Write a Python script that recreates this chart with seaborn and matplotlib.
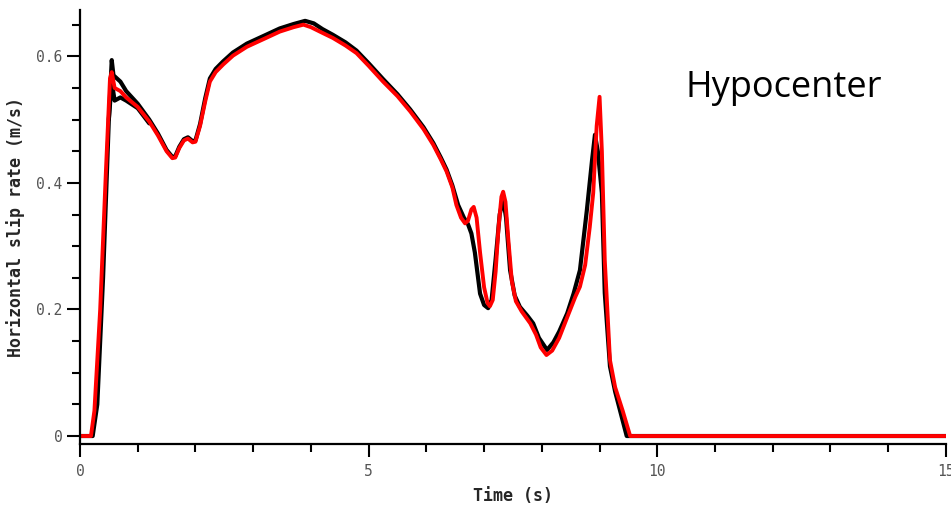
import matplotlib
matplotlib.use('Agg')
import matplotlib.pyplot as plt
from matplotlib.ticker import MultipleLocator
import seaborn as sns

# slip rate curves (time in s, rate in m/s)
red_t = [0, 0.19, 0.25, 0.35, 0.45, 0.52, 0.55, 0.6, 0.7, 0.8, 1.0, 1.2, 1.35, 1.5, 1.6,
         1.65, 1.72, 1.8, 1.87, 1.95, 2.0, 2.08, 2.17, 2.25, 2.35, 2.48, 2.65, 2.89, 3.2,
         3.46, 3.7, 3.87, 4.0, 4.2, 4.38, 4.6, 4.79, 5.0, 5.25, 5.5, 5.72, 5.95, 6.12,
         6.25, 6.35, 6.45, 6.52, 6.6, 6.67, 6.72, 6.78, 6.82, 6.87, 6.93, 7.0, 7.06, 7.1,
         7.15, 7.2, 7.25, 7.3, 7.33, 7.37, 7.42, 7.48, 7.55, 7.65, 7.8, 7.9, 7.98, 8.08,
         8.18, 8.3, 8.45, 8.58, 8.66, 8.75, 8.83, 8.89, 8.95, 9.0, 9.04, 9.09, 9.18, 9.27,
         9.4, 9.53, 15]
red_v = [0, 0, 0.04, 0.2, 0.42, 0.565, 0.575, 0.55, 0.545, 0.535, 0.52, 0.497, 0.475, 0.45, 0.439,
         0.44, 0.455, 0.467, 0.47, 0.464, 0.465, 0.49, 0.529, 0.56, 0.575, 0.587, 0.601, 0.615, 0.628,
         0.639, 0.646, 0.65, 0.646, 0.637, 0.629, 0.617, 0.605, 0.585, 0.56, 0.537, 0.513, 0.485, 0.46,
         0.437, 0.418, 0.393, 0.365, 0.345, 0.336, 0.34, 0.358, 0.362, 0.345, 0.29, 0.235, 0.21, 0.205,
         0.215, 0.26, 0.33, 0.378, 0.386, 0.37, 0.31, 0.245, 0.213, 0.197, 0.178, 0.16, 0.14, 0.128,
         0.135, 0.155, 0.19, 0.22, 0.236, 0.27, 0.33, 0.384, 0.49, 0.536, 0.45, 0.278, 0.12, 0.077,
         0.04, 0, 0]

black_t = [0, 0.22, 0.3, 0.4, 0.5, 0.55, 0.58, 0.7, 0.8, 1.0, 1.2, 1.35, 1.5, 1.6, 1.65,
           1.72, 1.8, 1.87, 1.95, 2.0, 2.08, 2.17, 2.25, 2.35, 2.48, 2.65, 2.89, 3.2, 3.46,
           3.7, 3.9, 4.05, 4.2, 4.38, 4.6, 4.79, 5.0, 5.25, 5.5, 5.72, 5.95, 6.12, 6.25,
           6.35, 6.45, 6.55, 6.65, 6.72, 6.78, 6.84, 6.93, 7.0, 7.07, 7.13, 7.2, 7.27, 7.33,
           7.38, 7.45, 7.53, 7.62, 7.75, 7.85, 7.95, 8.09, 8.2, 8.3, 8.44, 8.55, 8.66, 8.78,
           8.87, 8.92, 8.97, 9.04, 9.09, 9.18, 9.27, 9.47, 15]
black_v = [0, 0, 0.05, 0.25, 0.5, 0.594, 0.57, 0.56, 0.545, 0.525, 0.5, 0.478, 0.452, 0.441, 0.442,
           0.457, 0.469, 0.472, 0.466, 0.467, 0.493, 0.534, 0.565, 0.58, 0.592, 0.606, 0.62, 0.633, 0.644,
           0.651, 0.656, 0.652, 0.643, 0.634, 0.622, 0.609, 0.589, 0.564, 0.54, 0.516, 0.488, 0.463, 0.44,
           0.421, 0.396, 0.365, 0.345, 0.335, 0.32, 0.29, 0.225, 0.207, 0.202, 0.215, 0.28, 0.35, 0.375,
           0.345, 0.262, 0.222, 0.204, 0.19, 0.178, 0.155, 0.136, 0.148, 0.165, 0.194, 0.225, 0.262, 0.357,
           0.436, 0.476, 0.45, 0.384, 0.226, 0.11, 0.07, 0, 0]

# lower black trace, only separable from the red one near the first peak
black2_t = [0.5, 0.55, 0.6, 0.7, 0.8, 1.0, 1.2]
black2_v = [0.5, 0.56, 0.53, 0.535, 0.53, 0.518, 0.494]

y_ticks = [0, 0.2, 0.4, 0.6]
y_tick_labels = ['0', '0.2', '0.4', '0.6']
x_ticks = [0, 5, 10, 15]
x_tick_labels = ['0', '5', '10', '15']

sns.set_style('ticks')

fig = plt.figure(figsize=(9.51, 5.05), dpi=100)
ax = fig.add_axes([0.0841, 0.1208, 0.9106, 0.8592])

sns.lineplot(x=black_t, y=black_v, color='black', lw=3, estimator=None, sort=False, ax=ax)
sns.lineplot(x=black2_t, y=black2_v, color='black', lw=3, estimator=None, sort=False, ax=ax)
sns.lineplot(x=red_t, y=red_v, color='#ff0000', lw=2.8, estimator=None, sort=False, ax=ax)

ax.set_xlim(0, 15)
ax.set_ylim(-0.0126, 0.673)
ax.set_xticks(x_ticks)
ax.set_xticklabels(x_tick_labels)
ax.set_yticks(y_ticks)
ax.set_yticklabels(y_tick_labels)
ax.xaxis.set_minor_locator(MultipleLocator(1))
ax.yaxis.set_minor_locator(MultipleLocator(0.05))

for side in ['top', 'right']:
    ax.spines[side].set_visible(False)
for side in ['left', 'bottom']:
    ax.spines[side].set_linewidth(1.6)
    ax.spines[side].set_color('black')

ax.tick_params(which='major', length=9.5, width=1.5, color='black',
               labelcolor='#555555', labelsize=10.5)
ax.tick_params(which='minor', length=6, width=1.5, color='black')
ax.tick_params(axis='x', which='major', pad=5)
ax.tick_params(axis='y', which='major', pad=3)
for lbl in ax.get_xticklabels() + ax.get_yticklabels():
    lbl.set_family('DejaVu Sans Mono')

ax.set_xlabel('Time (s)', family='DejaVu Sans Mono', fontweight='bold', fontsize=12, labelpad=6)
ax.set_ylabel('Horizontal slip rate (m/s)', family='DejaVu Sans Mono', fontweight='bold',
              fontsize=12, labelpad=8)

ax.text(0.699, 0.7995, 'Hypocenter', transform=ax.transAxes, family='Open Sans',
        fontsize=26, va='baseline', ha='left', color='black')

fig.savefig('out.png', dpi=100)
